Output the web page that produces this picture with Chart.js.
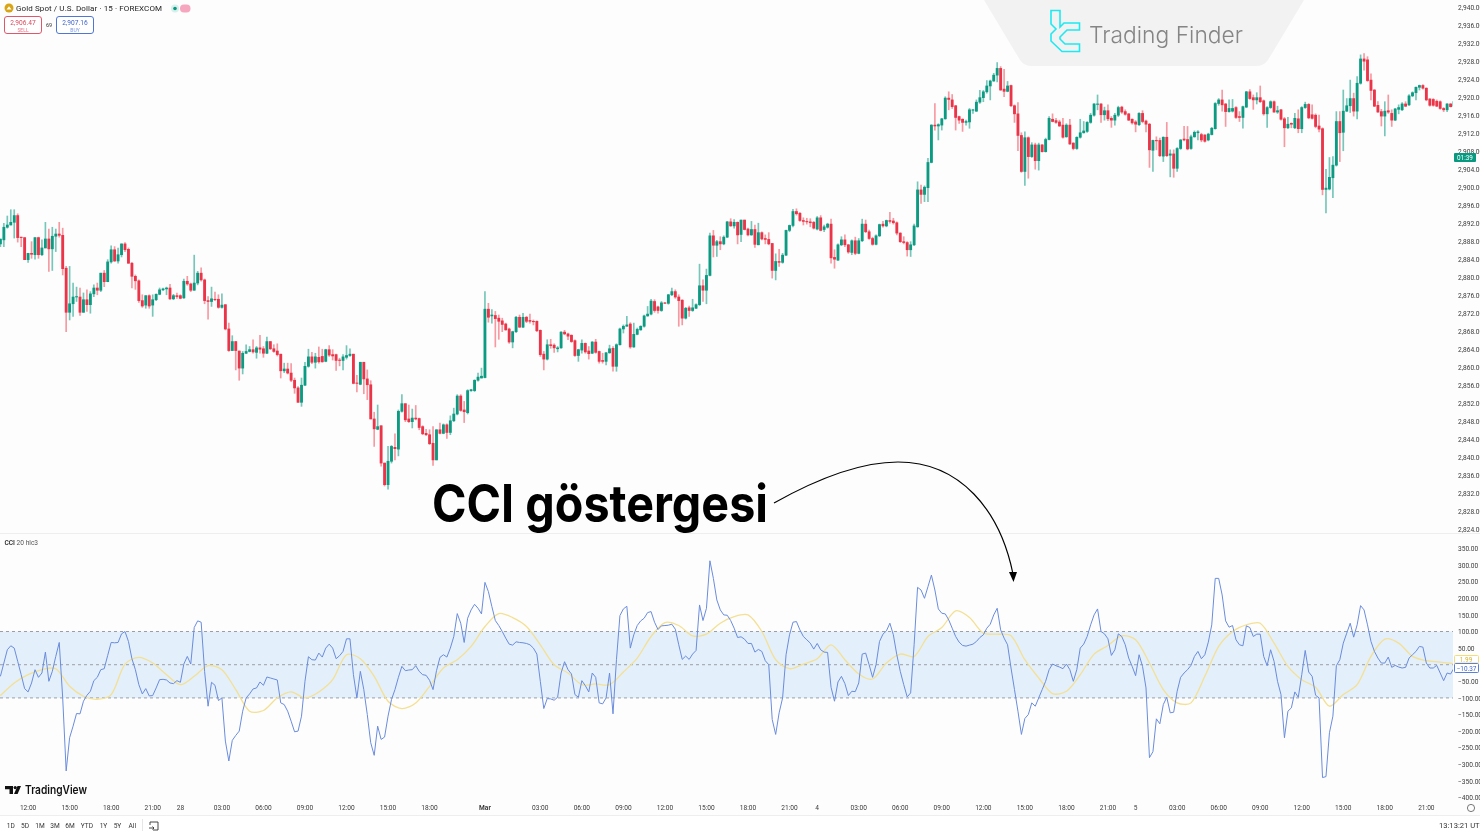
<!DOCTYPE html>
<html>
<head>
<meta charset="utf-8">
<title>CCI göstergesi</title>
<script src="https://cdn.jsdelivr.net/npm/chart.js@4/dist/chart.umd.js"></script>
<style>
  html, body { margin: 0; padding: 0; width: 1480px; height: 834px; overflow: hidden; background: #fff; }
  #panel { position: absolute; left: 0; top: 0; width: 1480px; height: 815px; background: #fdfdfd; }
  #price-wrap { position: absolute; left: 0; top: 0; width: 1480px; height: 533px; }
  #cci-wrap { position: absolute; left: 0; top: 534px; width: 1480px; height: 282px; }
  #overlay { position: absolute; left: 0; top: 0; }
  text { font-family: Roboto, sans-serif; }
</style>
</head>
<body>
<div id="panel"></div>
<div id="price-wrap"><canvas id="price-chart" width="1480" height="533"></canvas></div>
<div id="cci-wrap"><canvas id="cci-chart" width="1480" height="282"></canvas></div>

<svg id="overlay" width="1480" height="834" viewBox="0 0 1480 834">
  <!-- watermark -->
  <path d="M984 0 L1304 0 L1268 60 Q1264 66 1255 66 L1032 66 Q1024 66 1020 60 Z" fill="#f2f2f2"/>
  <path d="M1051 10.5 H1060 V27 L1064 23 H1079.5 V30 H1067 L1060 37 V39 L1065 44 H1079.5 V51.5 H1062 L1051 41 V34 L1056 29 L1051 24 Z" fill="none" stroke="#1ceaf2" stroke-width="1.6"/>
  <text x="1089" y="43" font-size="23" font-weight="300" fill="#858585" textLength="154" lengthAdjust="spacingAndGlyphs" style="font-family:Inter">Trading Finder</text>

  <!-- symbol header -->
  <circle cx="9" cy="8" r="4.5" fill="#d9a514"/>
  <path d="M6.5 9.5 L9 6.3 L11.5 9.5 Z" fill="#fff"/>
  <text x="16" y="11" font-size="8" fill="#222" textLength="146">Gold Spot / U.S. Dollar · 15 · FOREXCOM</text>
  <circle cx="175" cy="8.5" r="4" fill="#d8f0ec"/>
  <circle cx="175" cy="8.5" r="1.8" fill="#089981"/>
  <rect x="180" y="4.5" width="10.5" height="8" rx="4" fill="#f7a6bf"/>
  <rect x="4.5" y="16.5" width="37" height="17" rx="2.5" fill="#fff" stroke="#e0576b"/>
  <text x="23" y="24.5" font-size="6.6" fill="#d84a5d" text-anchor="middle">2,906.47</text>
  <text x="23" y="31.5" font-size="5" fill="#e0788a" text-anchor="middle">SELL</text>
  <text x="49" y="27" font-size="5.5" fill="#333" text-anchor="middle">69</text>
  <rect x="56.5" y="16.5" width="37" height="17" rx="2.5" fill="#fff" stroke="#4f76d6"/>
  <text x="75" y="24.5" font-size="6.6" fill="#3f66cc" text-anchor="middle">2,907.16</text>
  <text x="75" y="31.5" font-size="5" fill="#7a96de" text-anchor="middle">BUY</text>

  <!-- scale labels -->
  <rect x="1454" y="153" width="22" height="9" rx="1" fill="#089981"/>
  <text x="1465" y="160" font-size="6.4" fill="#fff" text-anchor="middle">01:39</text>
  <rect x="1454.5" y="655.5" width="24" height="7.5" rx="1" fill="#fff" stroke="#f4dc7e"/>
  <text x="1466" y="661.5" font-size="6.4" fill="#d9b42c" text-anchor="middle">1.99</text>
  <rect x="1454.5" y="663.5" width="24" height="9" rx="1" fill="#fff" stroke="#5b7fd8"/>
  <text x="1466.5" y="670.5" font-size="6.4" fill="#3f66cc" text-anchor="middle">−10.37</text>

  <!-- dividers and pane label -->
  <rect x="0" y="533" width="1480" height="1" fill="#eeeeee"/>
  <rect x="0" y="815" width="1480" height="1" fill="#eeeeee"/>
  <text x="4.5" y="545" font-size="6.6" fill="#555"><tspan font-weight="500" fill="#222">CCI</tspan> 20 hlc3</text>

  <!-- TradingView mark -->
  <path d="M5 786 H13 V794 H9.5 V789.2 H5 Z" fill="#111"/>
  <circle cx="15.2" cy="787.6" r="1.6" fill="#111"/>
  <path d="M17.5 786 H21 L17.6 794 H14 Z" fill="#111"/>
  <text x="25" y="794" font-size="11.5" font-weight="600" fill="#111" textLength="62" lengthAdjust="spacingAndGlyphs" style="font-family:Inter">TradingView</text>

  <!-- range buttons -->
  <g font-size="6.6" fill="#333" text-anchor="middle">
    <text x="10.7" y="828">1D</text>
    <text x="25" y="828">5D</text>
    <text x="40" y="828">1M</text>
    <text x="55" y="828">3M</text>
    <text x="70" y="828">6M</text>
    <text x="87" y="828">YTD</text>
    <text x="103.5" y="828">1Y</text>
    <text x="117.5" y="828">5Y</text>
    <text x="132.3" y="828">All</text>
  </g>
  <rect x="142" y="819" width="1" height="12" fill="#e6e6e6"/>
  <path d="M150 825 V822 H158 V830 H153 M149 828 H154 M152.5 826.5 L154 828 L152.5 829.5" fill="none" stroke="#333" stroke-width="0.9"/>
  <text x="1439" y="828" font-size="7.6" fill="#333">13:13:21 UTC</text>
  <circle cx="1471" cy="808" r="3.6" fill="none" stroke="#555" stroke-width="0.8"/>

  <!-- annotation -->
  <text x="432" y="522" font-size="52" font-weight="700" fill="#000" textLength="336" lengthAdjust="spacingAndGlyphs" style="font-family:Inter">CCI göstergesi</text>
  <path d="M774 503 C815 480 860 462 898 462 C960 462 1000 510 1013 574" fill="none" stroke="#000" stroke-width="1.2"/>
  <path d="M1009 572 L1017 572 L1013.5 582 Z" fill="#000"/>
</svg>

<script>
const bodyTop = [
2888.5,2891.1,2891.6,2892.2,2893.7,2893.7,2888.9,2888.8,2885.3,2885.3,
2888.8,2888.8,2886.5,2888.5,2888.5,2889.1,2889.6,2889.6,2889.3,2882.0,
2874.1,2875.6,2875.7,2875.6,2875.0,2875.0,2876.3,2877.6,2877.6,2880.9,
2880.9,2883.4,2886.1,2886.1,2885.0,2887.4,2887.4,2886.2,2883.1,2880.2,
2879.2,2874.8,2875.9,2875.9,2875.0,2876.2,2877.2,2877.4,2877.6,2877.6,
2875.9,2875.9,2875.9,2879.1,2879.1,2878.5,2878.7,2880.9,2880.9,2879.4,
2874.8,2875.2,2875.1,2875.1,2873.8,2873.9,2868.5,2865.7,2865.7,2863.6,
2863.1,2863.5,2863.9,2863.9,2864.3,2864.3,2864.1,2865.7,2865.7,2864.1,
2863.6,2862.9,2859.6,2859.6,2858.7,2857.1,2855.4,2856.0,2860.2,2862.3,
2862.3,2862.3,2862.2,2862.4,2863.9,2863.9,2862.8,2862.8,2861.6,2862.3,
2862.6,2862.9,2862.9,2856.5,2861.1,2861.1,2857.4,2856.1,2848.5,2846.8,
2847.0,2838.7,2839.1,2842.4,2842.2,2850.2,2851.9,2851.9,2848.5,2848.7,
2848.7,2848.6,2846.8,2845.3,2845.0,2843.1,2846.1,2846.1,2847.2,2847.2,
2848.1,2849.6,2853.6,2853.6,2850.5,2854.8,2855.0,2857.1,2857.8,2858.0,
2872.9,2872.9,2871.6,2871.5,2870.9,2870.3,2869.6,2868.5,2867.9,2871.1,
2871.1,2871.1,2871.1,2870.4,2870.2,2870.2,2868.2,2862.9,2865.0,2865.0,
2864.9,2864.3,2867.8,2867.8,2867.4,2867.1,2865.9,2863.9,2865.3,2865.3,
2863.6,2865.6,2865.6,2863.5,2861.5,2863.2,2864.1,2864.2,2865.0,2868.5,
2869.1,2869.4,2869.6,2867.3,2868.4,2869.1,2871.4,2871.8,2874.7,2874.6,
2873.4,2874.3,2874.3,2876.1,2876.8,2876.8,2875.6,2874.9,2873.1,2873.2,
2873.2,2873.9,2878.1,2878.1,2880.4,2889.2,2889.2,2887.9,2887.9,2888.9,
2892.3,2892.3,2892.2,2892.2,2892.7,2892.7,2890.7,2890.6,2890.6,2889.9,
2889.9,2888.6,2888.4,2887.5,2883.5,2883.5,2884.9,2890.4,2891.5,2894.6,
2894.6,2894.2,2892.6,2892.4,2892.3,2892.2,2893.2,2893.2,2891.2,2891.8,
2891.8,2884.4,2887.2,2888.3,2888.3,2887.2,2888.1,2888.1,2888.1,2891.8,
2891.8,2890.1,2888.6,2889.2,2891.7,2891.8,2892.6,2892.6,2892.5,2892.1,
2889.8,2887.9,2887.7,2887.2,2891.4,2899.4,2899.4,2900.0,2905.5,2913.8,
2913.8,2913.9,2915.2,2919.8,2919.8,2919.4,2918.1,2915.7,2915.1,2914.6,
2917.2,2917.2,2918.9,2919.9,2921.2,2922.5,2923.6,2924.9,2926.4,2926.4,
2921.8,2922.5,2922.6,2918.1,2916.3,2911.5,2911.0,2911.0,2909.4,2909.4,
2909.4,2909.4,2910.6,2915.3,2915.1,2914.8,2914.5,2913.8,2913.8,2913.8,
2909.8,2911.1,2912.1,2912.5,2914.4,2916.0,2918.5,2918.5,2918.5,2917.0,
2917.0,2915.3,2916.0,2917.7,2917.8,2916.8,2916.3,2915.1,2914.5,2916.4,
2916.4,2914.7,2914.0,2910.4,2910.4,2910.4,2911.1,2911.1,2907.4,2907.4,
2908.6,2910.5,2910.7,2910.6,2911.2,2912.2,2912.3,2911.7,2911.6,2911.8,
2913.1,2918.6,2919.4,2919.4,2918.5,2917.5,2917.5,2917.7,2915.7,2917.9,
2921.2,2921.2,2919.9,2919.9,2919.9,2919.2,2917.7,2919.0,2919.0,2917.0,
2917.2,2915.2,2914.0,2914.2,2915.3,2915.2,2917.7,2918.4,2918.4,2916.1,
2916.0,2913.6,2913.0,2899.8,2902.2,2904.9,2914.6,2914.6,2916.9,2918.1,
2919.7,2919.7,2923.1,2928.5,2928.5,2928.3,2923.8,2921.6,2918.2,2916.8,
2916.9,2917.0,2916.4,2917.4,2917.7,2918.5,2918.5,2920.3,2921.0,2922.2,
2922.6,2922.6,2922.0,2919.6,2919.5,2919.1,2919.0,2917.5,2918.5,2918.5,2919.0
];
const bodyBottom = [
2887.4,2888.3,2891.1,2891.6,2892.2,2888.8,2888.8,2883.9,2883.9,2885.1,
2885.0,2885.0,2885.0,2886.5,2886.3,2886.3,2889.1,2889.3,2881.9,2872.2,
2872.2,2874.1,2875.6,2872.2,2872.2,2873.9,2873.9,2876.3,2877.1,2877.1,
2879.0,2879.0,2883.4,2883.6,2883.6,2885.0,2886.1,2883.1,2880.2,2879.2,
2874.8,2873.6,2873.8,2873.6,2873.8,2875.0,2876.2,2877.2,2877.4,2875.2,
2875.2,2875.7,2875.3,2875.4,2878.5,2877.1,2877.1,2878.7,2879.4,2874.8,
2874.6,2874.6,2875.0,2873.3,2873.3,2868.5,2863.7,2863.7,2863.7,2859.8,
2859.8,2863.1,2863.5,2863.4,2863.3,2864.0,2863.1,2863.1,2864.1,2863.5,
2862.8,2859.2,2859.2,2858.7,2857.1,2855.4,2852.2,2852.2,2856.0,2860.2,
2861.1,2861.1,2861.2,2861.2,2861.3,2862.7,2862.5,2861.5,2861.5,2861.5,
2862.2,2862.6,2856.4,2856.4,2856.2,2857.4,2856.1,2848.5,2846.3,2846.2,
2838.7,2833.9,2833.9,2839.1,2841.9,2841.8,2850.2,2848.3,2847.9,2847.9,
2848.5,2846.6,2845.2,2845.0,2843.0,2839.4,2839.4,2845.3,2845.3,2845.5,
2845.5,2848.1,2849.6,2850.4,2850.1,2849.9,2854.8,2854.8,2857.1,2857.6,
2857.7,2871.1,2871.4,2870.8,2870.2,2869.5,2868.3,2865.6,2865.6,2867.9,
2868.9,2868.9,2870.2,2870.2,2870.1,2868.1,2862.8,2861.8,2861.8,2864.8,
2864.3,2864.1,2864.3,2867.4,2866.9,2865.7,2862.6,2862.6,2863.8,2863.4,
2863.0,2863.1,2863.3,2861.3,2861.3,2861.3,2863.2,2860.2,2860.2,2865.0,
2868.5,2869.1,2864.5,2864.5,2867.3,2868.3,2869.1,2871.4,2871.8,2872.6,
2872.6,2872.6,2874.2,2874.2,2876.1,2875.6,2874.8,2870.9,2870.9,2872.6,
2872.6,2873.1,2873.9,2877.1,2877.1,2880.4,2887.1,2887.1,2887.4,2887.4,
2888.9,2891.4,2891.4,2889.4,2889.5,2890.6,2889.4,2889.4,2887.3,2887.2,
2888.5,2888.4,2887.4,2881.5,2881.5,2883.3,2883.3,2884.9,2890.4,2891.5,
2894.1,2892.6,2892.4,2892.3,2892.1,2890.9,2890.7,2890.4,2890.6,2891.1,
2884.3,2884.0,2883.8,2887.2,2887.2,2885.6,2885.5,2885.3,2885.3,2888.1,
2890.1,2888.6,2887.3,2887.3,2889.2,2891.4,2891.4,2892.4,2892.1,2889.8,
2887.9,2887.7,2886.1,2886.1,2887.2,2891.2,2898.4,2898.4,2899.9,2905.5,
2913.6,2913.6,2913.8,2915.2,2919.5,2917.9,2915.5,2914.9,2914.4,2914.4,
2914.5,2917.1,2916.9,2918.9,2919.9,2921.2,2922.5,2923.6,2924.9,2921.6,
2921.3,2921.3,2918.1,2916.3,2911.5,2903.5,2903.5,2906.8,2906.8,2905.9,
2905.9,2907.9,2907.9,2910.6,2914.6,2914.4,2913.6,2911.1,2911.2,2909.6,
2908.6,2908.6,2911.1,2912.1,2912.4,2914.4,2916.0,2918.4,2916.1,2916.1,
2915.2,2914.9,2914.9,2916.0,2916.7,2916.2,2914.9,2914.3,2914.0,2913.9,
2914.6,2914.0,2908.3,2908.2,2910.3,2907.0,2906.9,2907.0,2907.1,2904.2,
2904.2,2908.6,2910.5,2908.5,2908.6,2911.2,2912.1,2910.5,2910.2,2910.5,
2911.7,2913.0,2918.6,2918.3,2916.8,2916.8,2916.9,2915.5,2915.5,2915.5,
2917.8,2919.7,2919.4,2919.4,2919.0,2916.3,2916.3,2917.7,2916.7,2916.7,
2915.1,2913.2,2913.2,2914.0,2913.2,2913.0,2913.0,2917.7,2915.4,2915.3,
2913.5,2912.9,2899.5,2899.5,2899.6,2902.1,2904.9,2912.1,2912.2,2916.9,
2918.1,2916.9,2916.9,2923.1,2928.0,2923.7,2921.5,2918.0,2916.7,2915.8,
2915.8,2916.7,2914.9,2914.9,2917.3,2917.2,2918.0,2918.3,2920.3,2921.0,
2922.2,2922.0,2919.4,2918.2,2918.2,2918.0,2917.5,2917.2,2917.2,2917.9,2918.0
];
const highs = [
2888.5,2892.0,2893.6,2895.0,2895.0,2894.1,2888.9,2888.8,2885.3,2887.9,
2888.8,2888.9,2888.3,2892.2,2890.7,2891.1,2890.7,2892.2,2890.9,2882.4,
2882.4,2878.7,2877.8,2877.6,2876.5,2877.2,2876.8,2878.3,2878.7,2880.9,
2881.5,2883.9,2887.0,2886.8,2886.5,2887.4,2887.7,2886.5,2883.3,2880.5,
2879.4,2876.1,2875.9,2876.1,2876.1,2876.3,2877.6,2877.6,2877.8,2878.4,
2876.2,2876.5,2876.1,2879.6,2880.2,2878.7,2884.9,2881.3,2882.1,2879.6,
2875.7,2877.8,2876.7,2876.1,2876.3,2873.9,2869.8,2867.0,2865.7,2863.6,
2863.5,2865.0,2864.6,2866.1,2864.6,2867.1,2864.6,2866.7,2865.7,2865.0,
2865.2,2862.9,2860.9,2860.9,2860.8,2857.6,2855.7,2857.6,2861.1,2864.0,
2863.3,2863.1,2864.5,2864.0,2864.0,2864.8,2863.9,2862.9,2862.0,2862.8,
2864.8,2864.1,2862.9,2858.2,2861.1,2861.1,2859.4,2857.0,2850.0,2851.6,
2847.0,2838.7,2842.4,2842.6,2845.2,2850.5,2853.9,2851.9,2851.6,2850.7,
2851.5,2848.7,2847.0,2846.2,2846.1,2846.8,2846.1,2847.6,2847.4,2847.4,
2849.2,2850.9,2853.9,2853.9,2852.4,2855.0,2855.1,2857.2,2858.7,2859.8,
2876.8,2874.2,2872.8,2872.4,2871.6,2870.9,2869.8,2868.7,2868.0,2871.3,
2871.6,2872.0,2871.3,2871.8,2870.5,2870.3,2868.3,2863.5,2866.1,2866.2,
2865.2,2864.6,2867.9,2868.2,2867.6,2867.2,2866.1,2864.0,2866.1,2865.4,
2864.6,2865.7,2866.2,2863.6,2863.1,2863.3,2864.9,2864.6,2865.2,2868.7,
2869.4,2871.3,2869.9,2869.8,2868.7,2869.2,2871.6,2873.5,2875.1,2875.0,
2873.6,2874.6,2874.4,2876.2,2877.6,2877.2,2876.1,2875.0,2873.3,2873.6,
2875.1,2874.1,2882.9,2879.4,2881.8,2889.8,2890.4,2888.2,2889.0,2889.2,
2892.4,2893.0,2892.8,2892.3,2892.7,2892.7,2890.9,2892.4,2891.6,2892.0,
2890.1,2889.4,2889.9,2887.5,2885.2,2886.2,2885.3,2890.5,2891.6,2895.1,
2895.2,2894.4,2893.2,2893.1,2893.0,2892.4,2893.5,2893.7,2891.6,2892.0,
2892.9,2886.1,2887.4,2889.0,2889.4,2887.3,2888.3,2888.9,2888.6,2892.9,
2892.7,2890.5,2888.9,2889.4,2891.8,2892.4,2892.7,2894.4,2893.1,2892.3,
2889.9,2889.0,2887.9,2887.9,2891.8,2901.2,2900.5,2900.3,2906.4,2913.9,
2918.6,2914.1,2915.3,2920.1,2921.2,2920.6,2918.2,2915.8,2915.2,2914.9,
2917.5,2917.3,2919.4,2921.5,2921.5,2923.7,2923.8,2925.3,2927.7,2926.8,
2926.2,2923.5,2922.7,2918.3,2918.8,2912.1,2912.3,2911.2,2909.9,2909.8,
2909.8,2909.5,2910.9,2915.7,2916.3,2915.3,2914.9,2915.3,2914.1,2915.1,
2909.9,2911.2,2915.1,2914.6,2914.6,2916.4,2918.6,2920.5,2918.6,2917.8,
2918.3,2915.7,2916.4,2918.0,2918.0,2917.2,2916.4,2915.2,2914.8,2916.6,
2917.0,2914.9,2914.2,2910.5,2911.2,2910.9,2911.2,2914.4,2908.3,2908.3,
2908.8,2910.6,2913.5,2913.5,2911.6,2912.5,2912.6,2912.0,2911.7,2912.0,
2913.3,2918.8,2919.7,2921.6,2918.6,2919.4,2919.5,2917.9,2916.8,2918.0,
2921.3,2921.7,2920.5,2921.0,2922.5,2919.4,2917.9,2919.2,2919.2,2918.0,
2917.3,2915.5,2915.5,2914.3,2916.4,2917.2,2917.9,2918.9,2918.6,2918.3,
2916.3,2916.0,2913.2,2904.0,2906.6,2906.8,2916.8,2916.8,2921.6,2919.7,
2923.8,2920.9,2924.6,2929.4,2929.7,2929.0,2925.2,2921.7,2919.0,2917.3,
2919.0,2920.5,2917.2,2917.5,2918.3,2918.8,2919.0,2920.6,2921.2,2922.3,
2922.7,2922.8,2922.1,2919.7,2919.7,2919.4,2919.2,2917.7,2918.6,2918.6,2919.0
];
const lows = [
2886.8,2886.8,2890.9,2891.6,2888.7,2887.8,2886.8,2883.9,2883.3,2884.2,
2884.0,2884.2,2884.8,2886.5,2881.3,2881.5,2885.7,2888.9,2880.5,2867.9,
2870.5,2871.3,2874.6,2871.5,2872.2,2872.4,2872.0,2875.7,2876.1,2876.8,
2877.9,2879.0,2883.1,2883.5,2883.1,2884.5,2885.7,2883.1,2877.6,2877.3,
2874.4,2873.3,2873.1,2873.1,2871.3,2874.8,2876.1,2877.0,2876.1,2875.0,
2875.0,2875.3,2875.2,2875.3,2878.2,2876.8,2877.1,2878.3,2879.1,2874.1,
2870.7,2873.5,2874.8,2873.1,2873.1,2868.3,2863.5,2863.7,2859.4,2857.1,
2858.5,2863.0,2863.4,2863.1,2862.0,2863.1,2862.2,2863.0,2863.9,2863.3,
2862.5,2857.6,2858.8,2858.5,2856.8,2854.2,2852.2,2851.3,2855.9,2860.0,
2860.8,2859.8,2860.9,2861.1,2861.2,2862.4,2861.6,2859.3,2860.3,2859.4,
2861.8,2862.4,2856.3,2854.5,2856.1,2854.1,2852.8,2848.5,2842.4,2846.1,
2838.0,2833.6,2832.9,2838.7,2839.4,2840.3,2850.0,2847.9,2847.7,2846.5,
2848.3,2846.1,2845.0,2844.8,2842.8,2838.2,2839.4,2845.2,2845.2,2844.2,
2845.0,2847.9,2849.4,2850.2,2847.7,2849.6,2854.6,2854.6,2856.9,2857.6,
2857.6,2870.0,2869.8,2864.5,2866.2,2867.9,2868.2,2865.3,2864.3,2867.7,
2868.8,2868.8,2869.9,2869.8,2869.4,2867.9,2862.4,2859.4,2861.6,2864.2,
2863.3,2863.4,2864.2,2867.2,2866.1,2865.5,2862.4,2861.3,2863.1,2863.1,
2861.8,2863.0,2863.1,2860.9,2860.9,2860.5,2863.1,2859.1,2859.1,2864.9,
2867.6,2869.1,2864.2,2864.4,2867.2,2868.2,2868.9,2871.3,2871.6,2872.2,
2872.0,2872.4,2874.1,2874.0,2875.9,2875.3,2869.1,2869.4,2870.7,2871.3,
2872.4,2873.0,2873.7,2874.6,2874.1,2880.3,2884.5,2884.6,2886.1,2887.2,
2888.8,2891.3,2890.9,2887.4,2887.9,2890.5,2889.2,2889.3,2886.6,2887.2,
2888.3,2887.4,2887.2,2879.8,2879.4,2882.4,2883.1,2884.8,2890.1,2891.2,
2893.8,2892.4,2891.6,2891.8,2891.2,2890.7,2890.5,2890.3,2890.1,2890.9,
2883.1,2882.0,2883.7,2887.0,2886.8,2885.3,2885.0,2885.0,2885.2,2887.9,
2889.9,2888.4,2887.1,2887.2,2889.0,2891.1,2891.2,2892.0,2891.8,2889.4,
2887.7,2887.4,2884.7,2884.6,2887.0,2891.1,2896.4,2896.8,2896.8,2905.4,
2912.7,2910.5,2912.7,2915.1,2917.2,2917.5,2912.7,2914.2,2912.4,2913.8,
2913.1,2916.4,2916.8,2918.6,2919.0,2920.9,2919.4,2923.5,2923.4,2921.5,
2920.1,2921.2,2917.9,2914.4,2908.1,2903.3,2900.4,2902.0,2906.6,2904.0,
2903.8,2907.8,2907.8,2910.5,2914.5,2914.2,2913.5,2910.9,2911.1,2909.5,
2908.3,2908.4,2910.9,2912.0,2912.2,2914.2,2915.8,2917.2,2914.4,2914.9,
2914.8,2913.3,2913.8,2915.7,2916.4,2916.0,2914.8,2914.0,2912.3,2913.7,
2914.3,2912.3,2904.4,2903.5,2908.3,2906.8,2905.7,2906.8,2902.3,2902.2,
2903.5,2908.4,2910.3,2908.3,2908.4,2911.1,2910.5,2910.1,2910.0,2910.3,
2911.6,2912.9,2918.2,2916.9,2913.5,2916.7,2916.7,2915.3,2914.6,2913.1,
2917.7,2919.5,2917.3,2918.5,2918.8,2916.0,2913.3,2917.5,2916.6,2916.4,
2914.9,2909.0,2913.0,2913.2,2913.0,2912.1,2912.1,2917.5,2915.2,2915.1,
2913.2,2912.3,2898.3,2894.3,2899.4,2897.7,2904.7,2905.7,2908.1,2916.8,
2916.6,2915.8,2915.2,2922.9,2926.0,2923.5,2919.4,2917.9,2916.6,2913.6,
2911.4,2916.4,2913.5,2914.8,2916.3,2917.0,2917.9,2918.1,2920.1,2919.4,
2921.6,2921.8,2919.2,2918.0,2918.0,2917.9,2917.3,2916.8,2916.8,2917.8,2918.0
];
// g = close above open, r = close below open
const candleDirection = (
  "gggggrrrgr" + "grggrggrrr" + "gggrgrggrg" + "rggrggrrrr" + "rrgrgggggr" + "grrgrrggrr" +
  "rgrrgrrgrr" + "gggrgrrgrr" + "rrgrrrrggg" + "rgrrgrrrrg" + "ggrrgrrrrg" + "rrggrggrrg" +
  "rrrrrrgrgr" + "gggrrggggg" + "grgrrrrrgg" + "rgrrrrrrgr" + "rggrrrrggr" + "rgrrrggrgg" +
  "ggrggggggr" + "rgrggrrrgr" + "gggrggrgrg" + "grgrgrrgrg" + "rrrrgrgggg" + "rrrrrrgrgg" +
  "rrggrrgrgg" + "rrrggrgrrr" + "rrrgggrggg" + "rgggrrrrrg" + "gggggggggr" + "rgrrrrgrgr" +
  "grggrrrrgr" + "rgggggggrg" + "rrggrrrrrg" + "rrrgrrgrgr" + "ggrrgggrrg" + "gggrrggrrg" +
  "grrgrrggrg" + "rrgrgrggrr" + "rrrggggrgg" + "grggrrrrrr" + "grrgggrggg" + "grrrrrrrgrg"
);

const cciValues = [
-35,5,45,57,50,10,-30,-72,-82,-55,
-15,-38,-25,38,-50,-20,25,67,-100,-320,
-220,-185,-147,-148,-110,-92,-80,-48,-38,-15,
-12,28,67,66,67,93,100,70,18,-15,
-60,-88,-72,-94,-93,-70,-45,-44,-46,-55,
-57,-48,-53,2,25,2,112,132,128,-20,
-125,-53,-62,-108,-100,-230,-290,-228,-213,-200,
-140,-100,-88,-73,-70,-52,-62,-37,-40,-43,
-46,-115,-120,-140,-170,-202,-200,-155,-50,24,
15,14,35,23,50,62,50,18,27,40,
78,78,-30,-100,-20,-75,-150,-235,-273,-185,
-225,-218,-155,-105,-75,-38,-5,-18,-16,-15,
-3,-20,-30,-32,-47,-75,-18,22,30,23,
50,85,154,125,67,140,165,182,170,153,
248,220,175,133,118,100,80,62,59,69,
67,66,64,60,50,32,-50,-132,-102,-103,
-107,-98,-25,9,-15,-28,-90,-98,-48,-63,
-82,-25,-38,-115,-118,-100,-25,-148,15,148,
168,176,50,90,118,132,140,157,160,128,
106,117,118,119,122,107,60,16,26,16,
32,43,180,133,170,313,260,195,165,150,
149,133,110,82,84,77,64,64,38,46,
40,12,0,-165,-210,-145,-100,30,90,128,
130,105,85,75,65,47,64,45,38,37,
-68,-110,-52,-35,-57,-93,-80,-81,-55,32,
35,0,-38,0,70,92,102,125,90,30,
-20,-60,-97,-85,60,233,225,200,235,270,
225,168,155,153,135,110,85,68,58,56,
59,62,70,82,90,110,122,150,170,105,
80,60,-10,-75,-140,-210,-162,-150,-115,-125,
-100,-75,-50,-15,2,-3,-7,-12,2,-15,
-50,-15,50,62,85,120,150,168,100,93,
78,28,45,93,85,60,20,-5,-33,30,
-5,-70,-280,-262,-163,-178,-120,-98,-145,-143,
-80,-38,-25,-15,-2,25,40,18,30,68,
120,260,260,210,132,113,118,75,60,57,
117,112,85,92,92,25,-3,45,10,-50,
-90,-220,-140,-130,-82,-98,-30,43,-22,-35,
-92,-100,-340,-337,-205,-155,-3,15,65,95,
125,83,120,178,165,120,70,40,20,5,
5,23,-8,-2,-7,-10,-8,20,30,40,
55,53,5,-10,-10,-2,-25,-48,-25,-28,-10
];
// the moving average is smooth
const MA_STEP = 4;
const maValues = [
-93,-55,-30,-15,-12,-65,-95,-104,-90,2,
22,5,-30,-60,-35,-3,-15,-75,-140,-138,
-100,-82,-100,-82,-45,30,18,
-35,-110,-132,-115,-65,-10,15,55,115,154,
142,115,60,0,-25,-60,-58,-60,-22,20,
85,127,118,87,92,125,145,
150,100,15,-12,2,18,60,15,-28,-43,
5,32,25,85,112,162,142,95,92,87,
15,-40,-87,-80,-30,32,58,
87,75,5,-75,-115,-115,-35,55,100,120,
125,65,-5,-45,-68,-125,-90,-60,25,77,
65,25,12,8,3
];

const priceTicks = [2940,2936,2932,2928,2924,2920,2916,2912,2908,2904,2900,2896,2892,2888,2884,2880,2876,2872,2868,2864,2860,2856,2852,2848,2844,2840,2836,2832,2828,2824];
const cciTicks = [350,300,250,200,150,100,50,-50,-100,-150,-200,-250,-300,-350,-400];
const timeTickBars = [8,20,32,44,52,64,76,88,100,112,124,140,156,168,180,192,204,216,228,236,248,260,272,284,296,308,320,328,340,352,364,376,388,400,412];
const timeTickLabels = ["12:00","15:00","18:00","21:00","28","03:00","06:00","09:00","12:00","15:00","18:00","Mar","03:00","06:00","09:00","12:00","15:00","18:00","21:00","4","03:00","06:00","09:00","12:00","15:00","18:00","21:00","5","03:00","06:00","09:00","12:00","15:00","18:00","21:00"];

const BAR_MIN = -0.116;
const BAR_MAX = 419.7;
const SCALE_WIDTH = 27;
const UP_COLOR = "#0b9a82";
const DOWN_COLOR = "#ec3449";
const UP_WICK = "rgba(8, 153, 129, 0.55)";
const DOWN_WICK = "rgba(242, 54, 69, 0.5)";
const AXIS_FONT = { family: "Roboto", size: 6.6 };
const AXIS_COLOR = "#3a3a3a";

Chart.defaults.animation = false;
Chart.defaults.responsive = false;

function isUp(i) {
  return candleDirection[i] === "g";
}

function rightAxis(ticksList, min, max, format) {
  return {
    position: "right",
    min,
    max,
    grid: { display: false, drawTicks: false },
    border: { display: false },
    afterBuildTicks(scale) {
      scale.ticks = ticksList.map((value) => ({ value }));
    },
    afterFit(scale) {
      scale.width = SCALE_WIDTH;
      scale.paddingTop = 0;
      scale.paddingBottom = 0;
    },
    ticks: {
      autoSkip: false,
      padding: 5,
      labelOffset: 1,
      crossAlign: "near",
      color: AXIS_COLOR,
      font: AXIS_FONT,
      callback: format,
    },
  };
}

new Chart(document.getElementById("price-chart"), {
  type: "bar",
  data: {
    datasets: [
      {
        label: "wicks",
        data: highs.map((high, i) => ({ x: i, y: [lows[i], high] })),
        backgroundColor: highs.map((_, i) => (isUp(i) ? UP_WICK : DOWN_WICK)),
        barThickness: 1,
        grouped: false,
        order: 2,
      },
      {
        label: "bodies",
        data: bodyTop.map((top, i) => ({ x: i, y: [bodyBottom[i], top] })),
        backgroundColor: bodyTop.map((_, i) => (isUp(i) ? UP_COLOR : DOWN_COLOR)),
        barThickness: 2.2,
        grouped: false,
        order: 1,
      },
    ],
  },
  options: {
    layout: { padding: 0 },
    plugins: { legend: { display: false }, tooltip: { enabled: false } },
    scales: {
      x: { type: "linear", display: false, offset: false, min: BAR_MIN, max: BAR_MAX, grid: { display: false, offset: false } },
      y: rightAxis(priceTicks, 2823.16, 2941.6, (value) =>
        value.toLocaleString("en-US", { minimumFractionDigits: 2, maximumFractionDigits: 2 })
      ),
    },
  },
});

function levelLine(level, extra) {
  return Object.assign(
    {
      data: [{ x: BAR_MIN, y: level }, { x: BAR_MAX, y: level }],
      borderColor: "#9a9fa8",
      borderWidth: 1,
      borderDash: [3, 3],
      pointRadius: 0,
      fill: false,
    },
    extra
  );
}

new Chart(document.getElementById("cci-chart"), {
  type: "line",
  data: {
    datasets: [
      levelLine(100, { fill: { target: { value: -100 }, above: "#e3effa" }, order: 5 }),
      levelLine(0, { order: 4 }),
      levelLine(-100, { order: 3 }),
      {
        label: "CCI-based MA",
        data: maValues.map((y, k) => ({ x: k * MA_STEP, y })),
        borderColor: "#f4e093",
        borderWidth: 1.3,
        pointRadius: 0,
        tension: 0.3,
        order: 2,
      },
      {
        label: "CCI",
        data: cciValues.map((y, x) => ({ x, y })),
        borderColor: "#6a8cdd",
        borderWidth: 1,
        pointRadius: 0,
        tension: 0,
        order: 1,
      },
    ],
  },
  options: {
    layout: { padding: 0 },
    plugins: { legend: { display: false }, tooltip: { enabled: false } },
    scales: {
      x: {
        type: "linear",
        min: BAR_MIN,
        max: BAR_MAX,
        grid: { display: false, drawTicks: false },
        border: { display: false },
        afterBuildTicks(scale) {
          scale.ticks = timeTickBars.map((value) => ({ value }));
        },
        afterFit(scale) {
          scale.height = 16;
          scale.paddingLeft = 0;
          scale.paddingRight = 0;
        },
        ticks: {
          autoSkip: false,
          maxRotation: 0,
          minRotation: 0,
          padding: 4,
          color: AXIS_COLOR,
          font(context) {
            const isDate = context.tick && context.tick.label === "Mar";
            return { family: "Roboto", size: 6.6, weight: isDate ? "700" : "400" };
          },
          callback(value) {
            return timeTickLabels[timeTickBars.indexOf(value)];
          },
        },
      },
      y: rightAxis(cciTicks, -407.5, 393.7, (value) => {
        const text = Math.abs(value).toFixed(2);
        return value < 0 ? `−${text}` : text;
      }),
    },
  },
});
</script>
</body>
</html>
